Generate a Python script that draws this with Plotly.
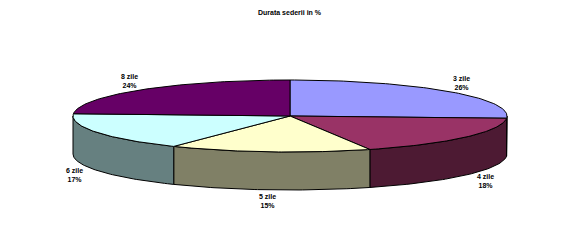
import numpy as np
import plotly.graph_objects as go

# Data
categories = ["3 zile", "4 zile", "5 zile", "6 zile", "8 zile"]
values = [26, 18, 15, 17, 24]
title_text = "Durata sederii in %"

top_colors = ["#9999FF", "#993366", "#FFFFCC", "#CCFFFF", "#660066"]
side_colors = ["#4D4D80", "#4D1A33", "#808066", "#668080", "#330033"]

# Geometry (pixel-like axes)
W, H = 581, 250
cx, cy, rx, ry, depth = 290, 116, 217, 36, 38


def ell(theta_deg, dy=0.0):
    t = np.radians(theta_deg)
    return cx + rx * np.sin(t), cy - ry * np.cos(t) + dy


total = float(sum(values))
bounds = np.concatenate([[0], np.cumsum(values) / total * 360.0])

fig = go.Figure()

# side walls (front half only)
for i in range(len(values)):
    a, b = bounds[i], bounds[i + 1]
    lo, hi = max(a, 90.0), min(b, 270.0)
    if hi <= lo:
        continue
    th = np.linspace(lo, hi, 60)
    xt, yt = ell(th)
    xb, yb = ell(th[::-1], depth)
    xs = np.concatenate([xt, xb, xt[:1]])
    ys = np.concatenate([yt, yb, yt[:1]])
    fig.add_trace(go.Scatter(x=xs, y=ys, mode="lines", fill="toself",
                             fillcolor=side_colors[i],
                             line=dict(color="black", width=1),
                             hoverinfo="skip", showlegend=False))

# top surfaces
for i in range(len(values)):
    a, b = bounds[i], bounds[i + 1]
    th = np.linspace(a, b, 80)
    xa, ya = ell(th)
    xs = np.concatenate([[cx], xa, [cx]])
    ys = np.concatenate([[cy], ya, [cy]])
    fig.add_trace(go.Scatter(x=xs, y=ys, mode="lines", fill="toself",
                             fillcolor=top_colors[i],
                             line=dict(color="black", width=1),
                             hoverinfo="skip", showlegend=False))

# labels
annotations = []
for i in range(len(values)):
    mid = np.radians((bounds[i] + bounds[i + 1]) / 2)
    c = np.cos(mid)
    front = c < 0
    lx = cx + (242 if front else 235) * np.sin(mid)
    ly = cy - 48 * c + (37 if front else 0)
    pct = round(values[i] / total * 100)
    annotations.append(dict(x=lx, y=ly, xref="x", yref="y",
                            text=f"<b>{categories[i]}<br>{pct}%</b>",
                            showarrow=False,
                            font=dict(family="Arial", size=7, color="black")))

annotations.append(dict(x=cx, y=12, xref="x", yref="y",
                        text=f"<b>{title_text}</b>", showarrow=False,
                        font=dict(family="Arial", size=7, color="black")))

fig.update_layout(
    width=W, height=H,
    margin=dict(l=0, r=0, t=0, b=0),
    paper_bgcolor="white", plot_bgcolor="white",
    xaxis=dict(range=[0, W], visible=False, fixedrange=True),
    yaxis=dict(range=[H, 0], visible=False, fixedrange=True),
    annotations=annotations,
    showlegend=False,
)

fig.write_html("out.html")
